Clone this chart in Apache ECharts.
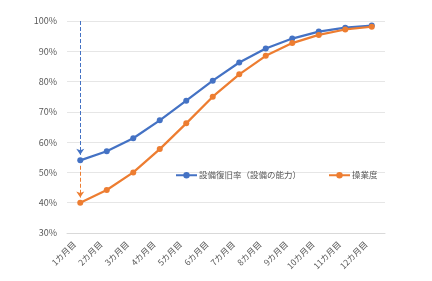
<!DOCTYPE html>
<html><head><meta charset="utf-8">
<script src="https://cdn.jsdelivr.net/npm/echarts@6/dist/echarts.min.js"></script>
<style>html,body{margin:0;padding:0;background:#fff}#c{width:432px;height:281px}</style>
</head><body><div id="c"></div>
<script>
const categories = ['1カ月目','2カ月目','3カ月目','4カ月目','5カ月目','6カ月目','7カ月目','8カ月目','9カ月目','10カ月目','11カ月目','12カ月目'];
const recovery = [54, 57, 61.3, 67.2, 73.7, 80.3, 86.3, 90.9, 94.2, 96.5, 97.8, 98.5];
const operation = [40, 44.2, 50, 57.7, 66.2, 75, 82.4, 88.5, 92.7, 95.4, 97.2, 98.1];
const seriesNames = ['設備復旧率（設備の能力）', '操業度'];
const blueArrow = [100, 55.8];
const orangeArrow = [52.2, 41.7];

const chart = echarts.init(document.getElementById('c'), null, {renderer:'canvas'});
const font = '"Noto Sans CJK JP", sans-serif';
chart.setOption({
  animation: false,
  textStyle: {fontFamily: font},
  grid: {left: 67, right: 47, top: 21, bottom: 48},
  legend: {
    left: 175, top: 171, padding: 0, itemGap: 27, itemWidth: 21, itemHeight: 8,
    textStyle: {color: '#595959', fontSize: 8.5, fontFamily: font, padding: [0, 0, 0, -3]},
    data: seriesNames
  },
  xAxis: {
    type: 'category', data: categories, boundaryGap: true,
    axisLine: {lineStyle: {color: '#d9d9d9'}},
    axisTick: {show: false},
    axisLabel: {rotate: 45, color: '#595959', fontSize: 8.5, margin: 4, interval: 0, padding: [0, 8, 0, 0]}
  },
  yAxis: {
    type: 'value', min: 30, max: 100, interval: 10,
    axisLine: {show: false}, axisTick: {show: false},
    axisLabel: {formatter: '{value}%', color: '#595959', fontSize: 9, margin: 10},
    splitLine: {lineStyle: {color: '#e6e6e6'}}
  },
  series: [
    {
      name: seriesNames[0], type: 'line', data: recovery,
      symbol: 'circle', symbolSize: 6,
      lineStyle: {color: '#4472C4', width: 2.25},
      itemStyle: {color: '#4472C4'},
      markLine: {
        silent: true, symbol: ['none', 'arrow'], symbolSize: 6,
        label: {show: false},
        lineStyle: {color: '#4472C4', type: 'dashed', width: 1},
        data: [[{coord: [0, blueArrow[0]]}, {coord: [0, blueArrow[1]]}]]
      }
    },
    {
      name: seriesNames[1], type: 'line', data: operation,
      symbol: 'circle', symbolSize: 6,
      lineStyle: {color: '#ED7D31', width: 2.25},
      itemStyle: {color: '#ED7D31'},
      markLine: {
        silent: true, symbol: ['none', 'arrow'], symbolSize: 6,
        label: {show: false},
        lineStyle: {color: '#ED7D31', type: 'dashed', width: 1},
        data: [[{coord: [0, orangeArrow[0]]}, {coord: [0, orangeArrow[1]]}]]
      }
    }
  ]
});
</script></body></html>
